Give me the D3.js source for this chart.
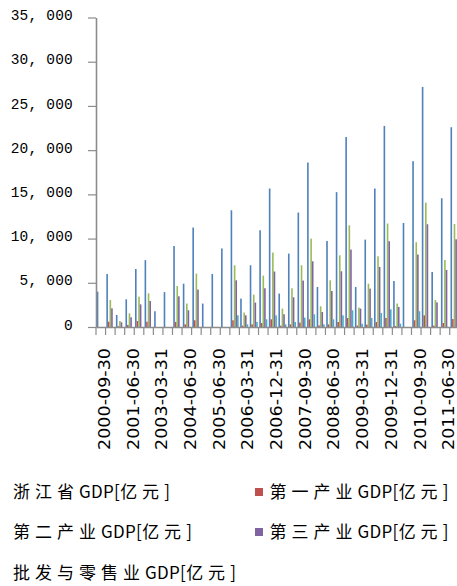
<!DOCTYPE html>
<html>
<head>
<meta charset="utf-8">
<script src="https://cdn.jsdelivr.net/npm/d3@7/dist/d3.min.js"></script>
<style>
  html, body { margin: 0; padding: 0; background: #fff; }
  svg { display: block; }
</style>
</head>
<body>
<svg id="chart" width="457" height="586"></svg>
<script>
// Zhejiang GDP, cumulative by reporting period (亿元)
const dates = [
  "2000-09-30","2000-12-31","2001-03-31","2001-06-30","2001-12-31","2002-12-31",
  "2003-03-31","2003-06-30","2003-12-31","2004-06-30","2004-12-31","2005-03-31",
  "2005-06-30","2005-09-30","2005-12-31","2006-03-31","2006-06-30","2006-09-30",
  "2006-12-31","2007-03-31","2007-06-30","2007-09-30","2007-12-31","2008-03-31",
  "2008-06-30","2008-09-30","2008-12-31","2009-03-31","2009-06-30","2009-09-30",
  "2009-12-31","2010-03-31","2010-06-30","2010-09-30","2010-12-31","2011-03-31",
  "2011-06-30","2011-09-30"
];
const gdpTotal = [
  3990, 5990, 1360, 3130, 6560, 7560, 1780, 3950, 9160, 4900, 11250, 2650,
  6000, 8880, 13200, 3210, 6980, 10940, 15660, 3780, 8300, 12940, 18600, 4520,
  9730, 15250, 21490, 4520, 9880, 15660, 22740, 5200, 11760, 18750, 27150, 6220,
  14560, 22590
];
const gdpPrimary = [
  null, 600, 80, 230, 680, 600, null, null, 570, 300, 760, null,
  null, null, 760, 150, 300, 450, 870, 150, 300, 500, 870, 180,
  300, 570, 1020, 160, 270, 570, 1020, 110, null, 760, 1320, 160,
  450, 900
];
const gdpSecondary = [
  null, 3050, 680, 1550, 3430, 3810, null, null, 4640, 2650, 6040, null,
  null, null, 6980, 1630, 3660, 5810, 8420, 2080, 4380, 6980, 10000, 2340,
  5280, 8110, 11500, 2190, 4900, 8000, 11700, 2650, null, 9590, 14070, 3050,
  7580, 11650
];
const gdpTertiary = [
  null, 2110, 530, 1100, 2560, 2940, null, null, 3470, 1890, 4230, null,
  null, null, 5280, 1320, 2760, 4380, 6270, 1440, 3360, 5250, 7430, 1700,
  4070, 6300, 8750, 2080, 4340, 6790, 9700, 2270, null, 8190, 11620, 2780,
  6450, 9920
];
const gdpWholesale = [
  null, null, null, null, null, null, null, null, null, null, null, null,
  null, null, 1320, 300, 570, 870, 1320, 300, 570, 1060, 1440, 300,
  870, 1320, 1890, 380, 1020, 1580, 2000, 380, null, 1780, null, null,
  null, null
];
const seriesNames = [
  "浙江省GDP[亿元]", "第一产业GDP[亿元]", "第二产业GDP[亿元]",
  "第三产业GDP[亿元]", "批发与零售业GDP[亿元]"
];
const seriesColors = ["#4F81BD", "#C0504D", "#9BBB59", "#8064A2", "#4BACC6"];
const yTicks = [0, 5000, 10000, 15000, 20000, 25000, 30000, 35000];

const series = [gdpTotal, gdpPrimary, gdpSecondary, gdpTertiary, gdpWholesale]
  .map((values, k) => ({ key: k, name: seriesNames[k], color: seriesColors[k], values }));

const svg = d3.select("#chart");
svg.append("rect").attr("width", 457).attr("height", 586).attr("fill", "#fff");

const plotLeft = 96, plotBottom = 327, plotTop = 17.5, catStep = 9.56;

const x = d3.scaleBand()
  .domain(dates)
  .range([plotLeft, plotLeft + catStep * dates.length])
  .padding(0);

const xs = d3.scaleBand()
  .domain(series.map(s => s.key))
  .range([x.bandwidth() * 0.08, x.bandwidth() * 0.92])
  .padding(0);

const y = d3.scaleLinear().domain([0, 35000]).range([plotBottom, plotTop]);

// Columns
const groups = svg.append("g").attr("class", "bars");
series.forEach(s => {
  groups.append("g")
    .attr("fill", s.color)
    .selectAll("rect")
    .data(s.values.map((v, i) => ({ date: dates[i], v })).filter(d => d.v != null))
    .join("rect")
    .attr("x", d => x(d.date) + xs(s.key))
    .attr("y", d => y(d.v))
    .attr("width", xs.bandwidth())
    .attr("height", d => y(0) - y(d.v));
});

const axisColor = "#8c8c8c";

// Y axis
const fmt = d3.format(",");
const yAxis = svg.append("g")
  .attr("transform", `translate(${plotLeft},0)`)
  .call(d3.axisLeft(y)
    .tickValues(yTicks)
    .tickSize(8)
    .tickSizeOuter(0)
    .tickPadding(15)
    .tickFormat(d => fmt(d).replace(/,/g, ", ")));
yAxis.select(".domain").attr("stroke", axisColor).attr("stroke-width", 1.6);
yAxis.selectAll(".tick line").attr("stroke", axisColor).attr("stroke-width", 1.2);
yAxis.selectAll(".tick text")
  .attr("fill", "#000")
  .attr("dy", "0.32em")
  .attr("y", -2.5)
  .style("font-family", "'Liberation Mono', 'DejaVu Sans Mono', monospace")
  .style("font-size", "14.5px")
  .style("letter-spacing", "0.2px");

// X axis
const labelDates = dates.filter((d, i) => i % 3 === 0);
const xAxis = svg.append("g")
  .attr("transform", `translate(0,${plotBottom})`)
  .call(d3.axisBottom(x)
    .tickValues(labelDates)
    .tickSize(0)
    .tickSizeOuter(0)
    .tickPadding(0));
xAxis.select(".domain").attr("stroke", axisColor).attr("stroke-width", 1.6);
xAxis.selectAll(".tick text")
  .attr("fill", "#000")
  .attr("text-anchor", "end")
  .attr("transform", "translate(4,21) rotate(-90)")
  .attr("x", 0)
  .attr("y", 0)
  .attr("dy", "0.35em")
  .attr("textLength", 102)
  .attr("lengthAdjust", "spacingAndGlyphs")
  .style("font-family", "'DejaVu Sans', sans-serif")
  .style("font-size", "15px");

// Category boundary tick marks
const bounds = dates.map(d => x(d)).concat([x(dates[dates.length - 1]) + x.step()]);
xAxis.append("g")
  .selectAll("line")
  .data(bounds)
  .join("line")
  .attr("x1", d => d).attr("x2", d => d)
  .attr("y1", 0).attr("y2", 8)
  .attr("stroke", axisColor)
  .attr("stroke-width", 1.2);

// Legend: CJK characters are spread out, Latin runs stay compact
const legendFont = "'Noto Sans CJK SC', 'Noto Sans CJK TC', sans-serif";
const legendItems = [
  { s: series[0], x: 13, cy: 492, swatch: false },
  { s: series[1], x: 269.5, cy: 492, swatch: true },
  { s: series[2], x: 13, cy: 532, swatch: false },
  { s: series[3], x: 269.5, cy: 532, swatch: true },
  { s: series[4], x: 13, cy: 573, swatch: false }
];
const splitRuns = str => str.match(/[\u3400-\u9fff]+|[^\u3400-\u9fff]+/g);
const legend = svg.append("g").attr("class", "legend");
legendItems.forEach(item => {
  if (item.swatch) {
    legend.append("rect")
      .attr("x", 255).attr("y", item.cy - 4)
      .attr("width", 8).attr("height", 8)
      .attr("fill", item.s.color);
  }
  const t = legend.append("text")
    .attr("x", item.x)
    .attr("y", item.cy + 6.3)
    .attr("fill", "#000")
    .style("font-family", legendFont)
    .style("font-size", "17px");
  splitRuns(item.s.name).forEach(run => {
    const cjk = /[\u3400-\u9fff]/.test(run);
    t.append("tspan")
      .style("letter-spacing", cjk ? "5px" : "0.3px")
      .text(run);
  });
});
</script>
</body>
</html>
